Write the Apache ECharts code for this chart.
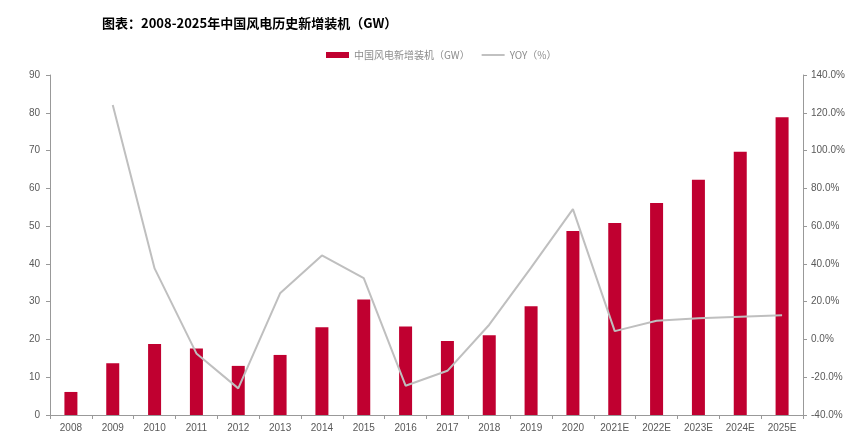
<!DOCTYPE html>
<html>
<head>
<meta charset="utf-8">
<script src="https://cdn.jsdelivr.net/npm/echarts@6/dist/echarts.min.js"></script>
<style>html,body{margin:0;padding:0;background:#fff}#c{width:858px;height:438px}</style>
</head>
<body>
<div id="c"></div>
<script>
const categories = ['2008','2009','2010','2011','2012','2013','2014','2015','2016','2017','2018','2019','2020','2021E','2022E','2023E','2024E','2025E'];
const installed = [6.1,13.7,18.8,17.6,13.0,15.9,23.2,30.6,23.4,19.6,21.1,28.8,48.7,50.8,56.1,62.3,69.7,78.8];
const yoy = [null,124.1,37.6,-7.4,-25.9,24.4,44.5,32.5,-24.5,-16.6,7.8,38.0,69.0,4.4,9.9,11.2,12.0,12.8];
const barName = '中国风电新增装机（GW）';
const lineName = 'YOY（%）';
const titleText = '图表：2008-2025年中国风电历史新增装机（GW）';

const chart = echarts.init(document.getElementById('c'), null, {renderer:'canvas'});
const axisText = {color:'#595959', fontSize:10, fontFamily:'Liberation Sans, Arial, sans-serif'};
chart.setOption({
  animation:false,
  backgroundColor:'#fff',
  title:{text:titleText,left:97,top:12,textStyle:{fontSize:13,fontWeight:'bold',color:'#000',fontFamily:'Noto Sans CJK SC, sans-serif'}},
  legend:{
    top:45,left:321,itemGap:12,itemWidth:23,itemHeight:6,
    textStyle:{color:'#8c8c8c',fontSize:10,fontFamily:'Noto Sans CJK SC, sans-serif'},
    data:[{name:barName,icon:'rect'},{name:lineName,icon:'path://M0,0 L24,0 L24,2 L0,2 Z',itemStyle:{color:'#BFBFBF'}}]
  },
  grid:{left:50,right:55,top:75,bottom:23},
  xAxis:{
    type:'category',data:categories,
    axisLine:{lineStyle:{color:'#999'}},
    axisTick:{show:true,length:4,lineStyle:{color:'#999'}},
    axisLabel:Object.assign({margin:8},axisText)
  },
  yAxis:[
    {type:'value',min:0,max:90,interval:10,
     axisLine:{show:true,lineStyle:{color:'#999'}},
     axisTick:{show:true,length:4,lineStyle:{color:'#999'}},
     splitLine:{show:false},
     axisLabel:Object.assign({margin:10},axisText)},
    {type:'value',min:-40,max:140,interval:20,
     axisLine:{show:true,lineStyle:{color:'#999'}},
     axisTick:{show:true,length:4,lineStyle:{color:'#999'}},
     splitLine:{show:false},
     axisLabel:Object.assign({margin:8,formatter:v=>v.toFixed(1)+'%'},axisText)}
  ],
  series:[
    {name:barName,type:'bar',data:installed,barWidth:13,itemStyle:{color:'#C00030'}},
    {name:lineName,type:'line',yAxisIndex:1,data:yoy,symbol:'none',lineStyle:{color:'#BFBFBF',width:2},itemStyle:{color:'#BFBFBF'}}
  ]
});
</script>
</body>
</html>
